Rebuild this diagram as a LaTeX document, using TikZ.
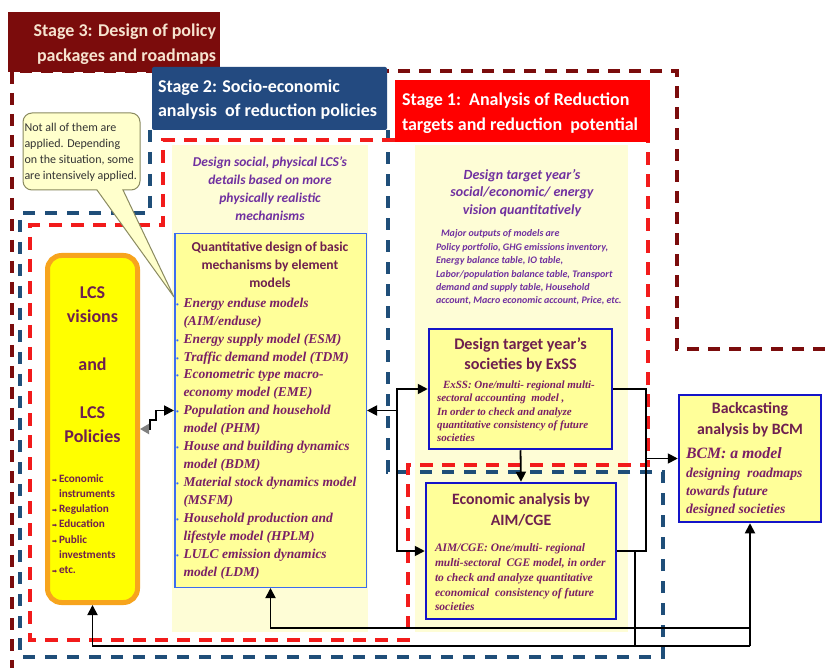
\documentclass[tikz,border=0pt]{standalone}
\usepackage{fontspec}
\setmainfont{Liberation Serif}
\setsansfont{Carlito}
\newfontfamily\dejavu{DejaVu Sans}
\usetikzlibrary{arrows.meta}
\newcommand\fsz[2]{\fontsize{#1}{#2}\selectfont}
\definecolor{sthree}{HTML}{7B0C0C}
\definecolor{sthreetxt}{HTML}{F6E3CF}
\definecolor{stwo}{HTML}{234A80}
\definecolor{stone}{HTML}{FF0000}
\definecolor{dredd}{HTML}{7B0C0C}
\definecolor{blued}{HTML}{1F4E79}
\definecolor{redd}{HTML}{F21B1B}
\definecolor{pale}{HTML}{FEFDD6}
\definecolor{boxy}{HTML}{FFFF99}
\definecolor{qborder}{HTML}{3C6CF0}
\definecolor{dborder}{HTML}{1414C8}
\definecolor{maroonx}{HTML}{6E1F4F}
\definecolor{purp}{HTML}{7030A0}
\definecolor{serifp}{HTML}{7A1F66}
\definecolor{lcsfill}{HTML}{FFFF00}
\definecolor{lcsborder}{HTML}{F7A41D}
\definecolor{callfill}{HTML}{FFFFCC}
\definecolor{callborder}{HTML}{8A8A60}
\newcommand\lcsbul{\makebox[7pt][l]{\dejavu\fontsize{6}{6}\selectfont ➡}}
\newcommand\qbul{\makebox[7.5pt][l]{\fontsize{8}{8}\selectfont\upshape\color{qborder}•}}
\begin{document}
\begin{tikzpicture}[x=1pt,y=-1pt,
  tx/.style={inner sep=0pt, outer sep=0pt},
  dashdr/.style={draw=dredd, line width=3.5pt, dash pattern=on 12pt off 9pt},
  dashbl/.style={draw=blued, line width=3.5pt, dash pattern=on 12pt off 10pt},
  dashrd/.style={draw=redd, line width=3.5pt, dash pattern=on 13pt off 9pt},
  panel/.style={fill=pale, draw=none},
  stagebox/.style={inner sep=0pt, draw=none},
  modelbox/.style={fill=boxy, draw=dborder, line width=2.5pt, inner sep=0pt},
  conn/.style={draw=black, line width=1.8pt},
  arr/.style={conn, -{Triangle[length=10pt,width=10pt]}},
  ttl/.style={tx, align=center, text=maroonx, font={\sffamily\bfseries\fsz{16.2}{20.5}}},
  body/.style={tx, align=left, text=serifp, font={\rmfamily\bfseries\itshape\fsz{11}{13.3}}},
]
\useasboundingbox (0,0) rectangle (825,668);
\fill[white] (0,0) rectangle (825,668);

% pale panels
\path[panel] (172,145) rectangle (368,632);
\path[panel] (415,145) rectangle (628,632);

% dashed stage outlines
\draw[dashdr] (825,349) -- (677,349) -- (677,71) -- (12,71) -- (12,668);
\draw[dashbl] (150,130) -- (150,213) -- (20,213) -- (20,657) -- (663,657) -- (663,472) -- (388,472) -- (388,130);
\draw[dashrd] (395,140) -- (163,140) -- (163,225) -- (30,225) -- (30,640) -- (408,640) -- (408,465) -- (648,465) -- (648,142);

% stage boxes
\node[stagebox, fill=sthree, minimum width=212, minimum height=60] (s3) at (114,42) {};
\node[stagebox, fill=stwo, rounded corners=2pt, minimum width=235, minimum height=63] (s2) at (269.5,98.5) {};
\node[stagebox, fill=stone, minimum width=255, minimum height=62] (s1) at (522.5,111) {};
\node[tx, anchor=east, align=right, text=sthreetxt, font={\sffamily\bfseries\fsz{18}{25}}] (s3t) at (216,44.5) {Stage 3: Design of policy\\packages and roadmaps};
\node[tx, anchor=west, align=left, text=white, font={\sffamily\bfseries\fsz{18}{24}}] (s2t) at (158,100) {Stage 2: Socio-economic\\analysis\ \ of reduction policies};
\node[tx, anchor=west, align=left, text=white, font={\sffamily\bfseries\fsz{18}{25}}] (s1t) at (402,113.5) {Stage 1:\ \ Analysis of Reduction\\targets and reduction\ \ potential};

% callout
\path[fill=callfill, draw=callborder, line width=1pt] (97,190) [rounded corners=9pt] -- (23,190) -- (23,113) -- (140,113) -- (140,190) [sharp corners] -- (123,190) -- (174,297) -- cycle;
\node[tx, anchor=west, align=left, text=black!80, font={\sffamily\fsz{12}{16}}] (callt) at (24.5,152) {Not all of them are\\applied. Depending\\on the situation, some\\are intensively applied.};

% LCS box
\node[fill=lcsfill, draw=lcsborder, line width=5pt, rounded corners=14pt, minimum width=90, minimum height=347, inner sep=0pt] (lcs) at (92.5,429) {};
\node[tx, align=center, text=maroonx, font={\sffamily\bfseries\fsz{18}{24}}] (lcst) at (92.5,365) {LCS\\visions\\[24pt]and\\[24pt]LCS\\Policies};
\node[tx, anchor=west, align=left, text=maroonx, font={\sffamily\bfseries\fsz{11.2}{15.2}}] (lcsb) at (52,524) {\lcsbul Economic\\\hspace*{7pt}instruments\\\lcsbul Regulation\\\lcsbul Education\\\lcsbul Public\\\hspace*{7pt}investments\\\lcsbul etc.};

% middle column
\node[tx, align=center, text=purp, font={\sffamily\bfseries\itshape\fsz{13.5}{18}}] (midt) at (270,188.5) {Design social, physical LCS's\\details based on more\\physically realistic\\mechanisms};
\node[fill=boxy, draw=qborder, line width=1.5pt, minimum width=191.5, minimum height=353.5, inner sep=0pt] (quant) at (270.5,410.5) {};
\node[ttl, font={\sffamily\bfseries\fsz{13.6}{18}}] (quantt) at (270,265) {Quantitative design of basic\\mechanisms by element\\models};
\node[tx, anchor=west, align=left, text=serifp, font={\rmfamily\bfseries\itshape\fsz{13.5}{17.93}}] (quantb) at (176,438.5) {\qbul Energy enduse models\\\hspace*{7.5pt}(AIM/enduse)\\\qbul Energy supply model (ESM)\\\qbul Traffic demand model (TDM)\\\qbul Econometric type macro-\\\hspace*{7.5pt}economy model (EME)\\\qbul Population and household\\\hspace*{7.5pt}model (PHM)\\\qbul House and building dynamics\\\hspace*{7.5pt}model (BDM)\\\qbul Material stock dynamics model\\\hspace*{7.5pt}(MSFM)\\\qbul Household production and\\\hspace*{7.5pt}lifestyle model (HPLM)\\\qbul LULC emission dynamics\\\hspace*{7.5pt}model (LDM)};

% right column
\node[tx, align=center, text=purp, font={\sffamily\bfseries\itshape\fsz{14}{17.5}}] (rtt) at (522,193) {Design target year's\\social/economic/ energy\\vision quantitatively};
\node[tx, anchor=west, align=left, text=purp, font={\sffamily\bfseries\itshape\fsz{10}{13.4}}] (rtb) at (436,267.5) {\hspace*{5pt}Major outputs of models are\\Policy portfolio, GHG emissions inventory,\\Energy balance table, IO table,\\Labor/population balance table, Transport\\demand and supply table, Household\\account, Macro economic account, Price, etc.};

\node[modelbox, minimum width=183, minimum height=120] (exss) at (520.5,389) {};
\node[ttl] (exsst) at (520.5,355) {Design target year's\\societies by ExSS};
\node[body, anchor=west] (exssb) at (437,411.5) {\hspace*{6pt}ExSS: One/multi- regional multi-\\sectoral accounting\ \ model ,\\In order to check and analyze\\quantitative consistency of future\\societies};

\node[modelbox, minimum width=190, minimum height=136] (cge) at (521,551) {};
\node[ttl, font={\sffamily\bfseries\fsz{15.8}{21}}] (cget) at (521,509.5) {Economic analysis by\\AIM/CGE};
\node[body, anchor=west, font={\rmfamily\bfseries\itshape\fsz{11.5}{14.75}}] (cgeb) at (435,577.5) {AIM/CGE: One/multi- regional\\multi-sectoral\ \ CGE model, in order\\to check and analyze quantitative\\economical\ \ consistency of future\\societies};

\node[modelbox, minimum width=142, minimum height=127] (bcm) at (750,458.5) {};
\node[ttl, font={\sffamily\bfseries\fsz{15.8}{21}}] (bcmt) at (750,419.5) {Backcasting\\analysis by BCM};
\node[tx, anchor=west, text=serifp, font={\rmfamily\bfseries\itshape\fsz{15.8}{15.8}}] (bcmh) at (686,453) {BCM: a model};
\node[body, anchor=west, font={\rmfamily\bfseries\itshape\fsz{13.6}{18}}] (bcmb) at (686,492) {designing\ \ roadmaps\\towards future\\designed societies};

% connectors
\draw[conn, {Triangle[length=9pt,width=10pt,color=gray]}-{Triangle[length=10pt,width=10pt]}] (lcs.east) -- ++(10,0) |- ++(6,-9) |- (quant.west);
\coordinate (bus) at (397,410.5);
\draw[arr] (bus) -- (quant.east);
\draw[arr] (bus) |- (exss.west);
\draw[arr] (bus) |- (cge.west);
\draw[arr] (exss.south) -- (cge.north);
\coordinate (jb) at (646,458.5);
\draw[conn] (exss.east) -| (jb);
\draw[conn] (cge.east) -| (jb);
\draw[arr] (jb) -- (bcm.west);
\coordinate (la) at (750,628);
\coordinate (lb) at (750,646);
\coordinate (cj) at (635,551);
\draw[arr] (lb) -- (bcm.south);
\draw[arr] (la) -| (quant.south);
\draw[arr] (lb) -| (lcs.south);
\draw[conn] (cj) -- (cj |- lb);
\end{tikzpicture}
\end{document}
